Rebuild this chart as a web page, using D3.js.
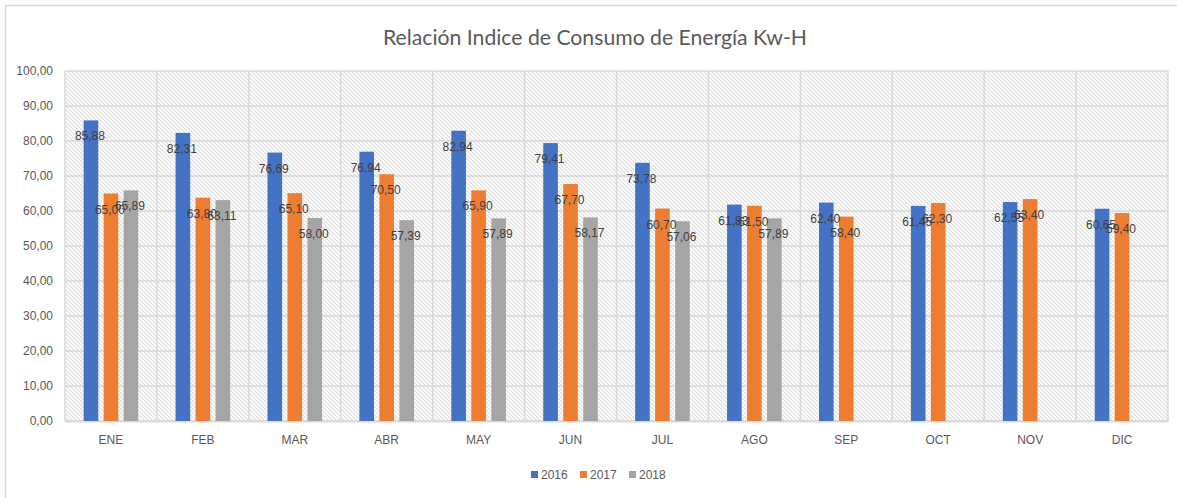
<!DOCTYPE html>
<html>
<head>
<meta charset="utf-8">
<script src="https://cdn.jsdelivr.net/npm/d3@7"></script>
<style>
html,body{margin:0;padding:0;background:#fff;}
svg{display:block;}
</style>
</head>
<body>
<svg id="chart" width="1177" height="498"></svg>
<script>
const months = ["ENE","FEB","MAR","ABR","MAY","JUN","JUL","AGO","SEP","OCT","NOV","DIC"];
const seriesNames = ["2016","2017","2018"];
const values2016 = [85.88,82.31,76.69,76.94,82.94,79.41,73.78,61.83,62.40,61.45,62.55,60.65];
const values2017 = [65.00,63.80,65.10,70.50,65.90,67.70,60.70,61.50,58.40,62.30,63.40,59.40];
const values2018 = [65.89,63.11,58.00,57.39,57.89,58.17,57.06,57.89,null,null,null,null];
const yTicks = [0,10,20,30,40,50,60,70,80,90,100];
const colors = ["#4472C4","#ED7D31","#A5A5A5"];
const titleText = "Relación Indice de Consumo de Energía Kw-H";

const allSeries = [values2016, values2017, values2018];
const svg = d3.select("#chart");
const fmt = v => v.toFixed(2).replace(".", ",");

const L = 65, R = 1168, T = 71, B = 421;

// pattern
const defs = svg.append("defs");
const pat = defs.append("pattern").attr("id","hatch").attr("patternUnits","userSpaceOnUse")
  .attr("width",4).attr("height",4);
pat.append("rect").attr("width",4).attr("height",4).attr("fill","#ffffff");
pat.append("path").attr("d","M-1,-1 L5,5 M-1,3 L1,5 M3,-1 L5,1").attr("stroke","#dcdcdc").attr("stroke-width",1.1);

// outer border
svg.append("rect").attr("x",5.5).attr("y",5.5).attr("width",1300).attr("height",700)
  .attr("fill","#fff").attr("stroke","#d9d9d9").attr("stroke-width",1.5);

const x = d3.scaleBand().domain(months).range([L,R]).paddingInner(0).paddingOuter(0);
const xs = d3.scaleBand().domain(seriesNames).range([-30,30]).paddingInner(0.27).paddingOuter(0.135);
const y = d3.scaleLinear().domain([0,100]).range([B,T]);

svg.append("rect").attr("x",L).attr("y",T).attr("width",R-L).attr("height",B-T).attr("fill","url(#hatch)");

// horizontal gridlines
svg.append("g").selectAll("line").data(yTicks).join("line")
  .attr("x1",L).attr("x2",R).attr("y1",d=>y(d)).attr("y2",d=>y(d))
  .attr("stroke","#d9d9d9").attr("stroke-width",1.5);
// vertical gridlines
const vlines = months.map(m => x(m)).concat([R]);
svg.append("g").selectAll("line").data(vlines).join("line")
  .attr("x1",d=>d).attr("x2",d=>d).attr("y1",T).attr("y2",B)
  .attr("stroke","#d9d9d9").attr("stroke-width",1.5);

// y axis labels
const yAxis = d3.axisLeft(y).tickValues(yTicks).tickFormat(fmt).tickSize(0).tickPadding(0);
const gy = svg.append("g").attr("transform",`translate(${L-12},0)`).call(yAxis);
gy.select(".domain").remove();
gy.selectAll("text").attr("fill","#595959").style("font-family","Liberation Sans, Arial, sans-serif").style("font-size","12px");

// x axis
const xAxis = d3.axisBottom(x).tickSize(0).tickPadding(14);
const gx = svg.append("g").attr("transform",`translate(0,${B})`).call(xAxis);
gx.select(".domain").attr("stroke","#d9d9d9").attr("stroke-width",2);
gx.selectAll("text").attr("fill","#595959").style("font-family","Liberation Sans, Arial, sans-serif").style("font-size","12px");

// bars
seriesNames.forEach((s,i) => {
  const data = months.map((m,j) => ({m, v: allSeries[i][j]})).filter(d => d.v != null);
  svg.append("g").selectAll("rect").data(data).join("rect")
    .attr("x", d => x(d.m) + x.bandwidth()/2 + xs(s))
    .attr("y", d => y(d.v))
    .attr("width", xs.bandwidth())
    .attr("height", d => y(0) - y(d.v))
    .attr("fill", colors[i]);
});
// labels
seriesNames.forEach((s,i) => {
  const data = months.map((m,j) => ({m, v: allSeries[i][j]})).filter(d => d.v != null);
  svg.append("g").selectAll("text").data(data).join("text")
    .attr("x", d => x(d.m) + x.bandwidth()/2 + xs(s) + xs.bandwidth()/2 - 1)
    .attr("y", d => y(d.v) + 20)
    .attr("text-anchor","middle")
    .attr("fill","#404040")
    .style("font-family","Liberation Sans, Arial, sans-serif").style("font-size","12px")
    .text(d => fmt(d.v));
});

// title
svg.append("text").attr("x",595).attr("y",45).attr("text-anchor","middle")
  .attr("fill","#595959").style("font-family","Lato, sans-serif").style("font-size","21px")
  .attr("textLength",424).attr("lengthAdjust","spacingAndGlyphs")
  .text(titleText);

// legend
const legX = [531,580,629];
const lg = svg.append("g");
seriesNames.forEach((s,i) => {
  lg.append("rect").attr("x",legX[i]).attr("y",471).attr("width",7).attr("height",7).attr("fill",colors[i]);
  lg.append("text").attr("x",legX[i]+10).attr("y",479).attr("fill","#595959")
    .style("font-family","Liberation Sans, Arial, sans-serif").style("font-size","12px").text(s);
});
</script>
</body>
</html>
